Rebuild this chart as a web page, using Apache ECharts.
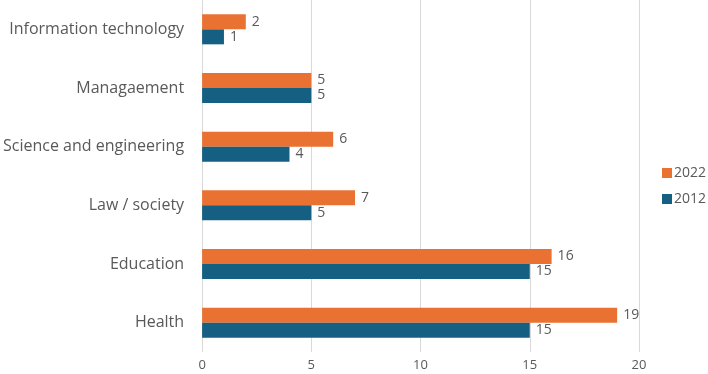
<!DOCTYPE html>
<html>
<head>
<meta charset="utf-8">
<script src="https://cdn.jsdelivr.net/npm/echarts@6/dist/echarts.min.js"></script>
<style>
  html, body { margin: 0; padding: 0; background: #fff; }
  #chart { width: 708px; height: 374px; }
</style>
</head>
<body>
<div id="chart"></div>
<script>
// categories bottom -> top
const categories = ["Health", "Education", "Law / society", "Science and engineering", "Managaement", "Information technology"];
const values2022 = [19, 16, 7, 6, 5, 2];
const values2012 = [15, 15, 5, 4, 5, 1];
const xTicks = [0, 5, 10, 15, 20];

const textColor = "#595959";
const fontFamily = "'Open Sans', sans-serif";

const chart = echarts.init(document.getElementById("chart"));
const labelStyle = {
  show: true,
  position: "right",
  distance: 6,
  color: textColor,
  fontSize: 14,
  fontFamily: fontFamily,
};
chart.setOption({
  animation: false,
  grid: { left: 202, right: 69, top: 0, bottom: 22 },
  legend: {
    orient: "vertical",
    left: 662,
    top: 166,
    padding: 0,
    itemWidth: 10,
    itemHeight: 10,
    itemGap: 12,
    icon: "rect",
    textStyle: { color: textColor, fontSize: 14, fontFamily: fontFamily, padding: [0, 0, 0, -3] },
    data: ["2022", "2012"],
  },
  xAxis: {
    type: "value",
    min: xTicks[0],
    max: xTicks[xTicks.length - 1],
    interval: 5,
    axisLine: { show: false },
    axisTick: { show: false },
    axisLabel: { color: textColor, fontSize: 13, fontFamily: fontFamily, margin: 7 },
    splitLine: { lineStyle: { color: "#D9D9D9", width: 1 } },
  },
  yAxis: {
    type: "category",
    data: categories,
    axisLine: { show: false },
    axisTick: { show: false },
    axisLabel: { color: textColor, fontSize: 16, fontFamily: fontFamily, margin: 18 },
  },
  series: [
    {
      name: "2022",
      type: "bar",
      data: values2022,
      itemStyle: { color: "#E97132" },
      barWidth: 15,
      barGap: "0%",
      label: labelStyle,
    },
    {
      name: "2012",
      type: "bar",
      data: values2012,
      itemStyle: { color: "#156082" },
      barWidth: 15,
      barGap: "0%",
      label: labelStyle,
    },
  ],
});
</script>
</body>
</html>
